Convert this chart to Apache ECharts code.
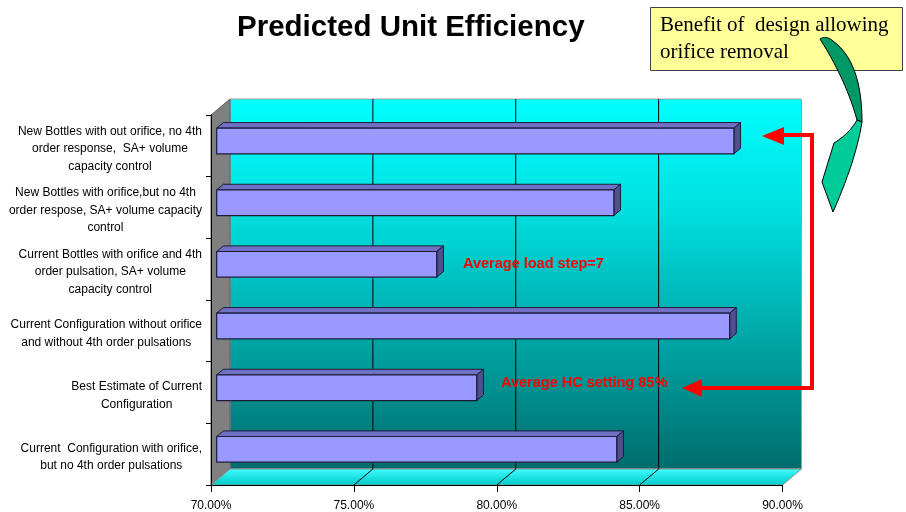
<!DOCTYPE html>
<html>
<head>
<meta charset="utf-8">
<script src="https://cdn.jsdelivr.net/npm/echarts@6/dist/echarts.min.js"></script>
<style>
html,body{margin:0;padding:0;background:#fff;}
#chart{width:906px;height:512px;}
</style>
</head>
<body>
<div id="chart"></div>
<script>
// ---- data ----
const categories = [
  "New Bottles with out orifice, no 4th\norder response,  SA+ volume\ncapacity control",
  "New Bottles with orifice,but no 4th\norder respose, SA+ volume capacity\ncontrol",
  "Current Bottles with orifice and 4th\norder pulsation, SA+ volume\ncapacity control",
  "Current Configuration without orifice\nand without 4th order pulsations",
  "Best Estimate of Current\nConfiguration",
  "Current  Configuration with orifice,\nbut no 4th order pulsations"
];
const efficiency = [88.1, 83.9, 77.7, 87.95, 79.1, 84.0];
const xMin = 70, xMax = 90, xStep = 5;
const wallGridValues = [75, 80, 85];
const titleText = "Predicted Unit Efficiency";
const noteLoad = "Average load step=7";
const noteHC = "Average HC setting 85%";
const boxLines = ["Benefit of  design allowing", "orifice removal"];

// ---- style constants (3D look) ----
const DX = 19, DY = -16;        // full depth offset
const F0 = 0.3, F1 = 0.65;      // bar depth span
const BAR_RATIO = 1 / 2.4;      // gap width 140%
const FONT = "'Liberation Sans', Arial, sans-serif";

function lin(stops) {
  return {type: 'linear', x: 0, y: 0, x2: 0, y2: 1,
    colorStops: stops.map(s => ({offset: s[0], color: s[1]}))};
}
// sample a path made of line points / quadratic [c, e] segments into polygon points
function shapePoints(start, segs) {
  const pts = [start.slice()];
  let cur = start.slice();
  segs.forEach(function (s) {
    if (!Array.isArray(s[0])) { pts.push(s.slice()); cur = s.slice(); }
    else {
      const c = s[0], e = s[1];
      for (let k = 1; k <= 14; k++) {
        const t = k / 14, u = 1 - t;
        pts.push([u * u * cur[0] + 2 * u * t * c[0] + t * t * e[0],
                  u * u * cur[1] + 2 * u * t * c[1] + t * t * e[1]]);
      }
      cur = e.slice();
    }
  });
  return pts;
}
const arrowUpper = shapePoints([820, 39], [[[826, 35], [833, 41]], [[862, 62], [862, 122]], [857, 120], [[846, 80], [820, 39]]]);
const arrowLower = shapePoints([857, 120], [[862, 122], [[856, 160], [833, 212]], [822, 182], [834, 143], [[849, 134], [857, 120]]]);

const chart = echarts.init(document.getElementById('chart'), null, {renderer: 'canvas'});

const option = {
  backgroundColor: '#ffffff',
  animation: false,
  title: {
    text: titleText,
    left: 232, top: 8,
    textStyle: {fontFamily: FONT, fontWeight: 'bold', fontSize: 29.5, color: '#000'}
  },
  grid: {left: 211, right: 123.5, top: 115, bottom: 26, containLabel: false},
  xAxis: {
    type: 'value', min: xMin, max: xMax, interval: xStep, z: 5,
    axisLine: {show: true, lineStyle: {color: '#000', width: 1}},
    axisTick: {show: true, length: 7, lineStyle: {color: '#000'}},
    splitLine: {show: false},
    axisLabel: {
      formatter: v => v.toFixed(2) + '%',
      fontFamily: FONT, fontSize: 12, color: '#000', margin: 15
    }
  },
  yAxis: {
    type: 'category', data: categories, inverse: true, z: 5,
    axisLine: {show: true, lineStyle: {color: '#000', width: 1}},
    axisTick: {show: true, length: 5, lineStyle: {color: '#000'}},
    splitLine: {show: false},
    axisLabel: {
      align: 'right', margin: 9, padding: [6, 0, 0, 0],
      formatter: v => v.split('\n').map(s => '{c|' + s + '}').join('\n'),
      rich: {c: {align: 'center', fontFamily: FONT, fontSize: 12, lineHeight: 17.5, color: '#000'}}
    }
  },
  series: [
    {
      type: 'custom', name: 'walls', z: 1, silent: true, clip: false,
      data: [[xMin, 0]],
      renderItem: function (params, api) {
        const cs = params.coordSys;
        const x = cs.x, y = cs.y, w = cs.width, h = cs.height;
        const children = [];
        children.push({
          type: 'rect',
          shape: {x: x + DX, y: y + DY, width: w, height: h},
          style: {fill: lin([[0, '#00FFFF'], [0.3, '#00E0E0'], [1, '#006C6C']]), stroke: '#A0A0A0', lineWidth: 1}
        });
        children.push({
          type: 'polygon',
          shape: {points: [[x, y], [x + DX, y + DY], [x + DX, y + h + DY], [x, y + h]]},
          style: {fill: '#808080', stroke: '#606060', lineWidth: 1}
        });
        children.push({
          type: 'polygon',
          shape: {points: [[x, y + h], [x + DX, y + h + DY], [x + w + DX, y + h + DY], [x + w, y + h]]},
          style: {fill: lin([[0, '#40FFFF'], [1, '#00C8C8']]), stroke: '#909090', lineWidth: 1}
        });
        wallGridValues.forEach(function (v) {
          const xv = api.coord([v, 0])[0];
          children.push({type: 'line', shape: {x1: xv + DX, y1: y + DY, x2: xv + DX, y2: y + h + DY},
            style: {stroke: '#000', lineWidth: 1}});
          children.push({type: 'line', shape: {x1: xv + DX, y1: y + h + DY, x2: xv, y2: y + h},
            style: {stroke: '#000', lineWidth: 1}});
        });
        return {type: 'group', children: children};
      }
    },
    {
      type: 'custom', name: 'Efficiency', z: 4, clip: false,
      encode: {x: 0, y: 1},
      data: efficiency.map((v, i) => [v, i]),
      renderItem: function (params, api) {
        const v = api.value(0), i = api.value(1);
        const p0 = api.coord([xMin, i]);
        const p1 = api.coord([v, i]);
        const bh = api.size([0, 1])[1] * BAR_RATIO;
        const L = p0[0] + DX * F0, R = p1[0] + DX * F0;
        const T = p1[1] - bh / 2 + DY * F0, B = p1[1] + bh / 2 + DY * F0;
        const ddx = DX * (F1 - F0), ddy = DY * (F1 - F0);
        const stroke = '#1C1C3A';
        return {type: 'group', children: [
          {type: 'polygon', shape: {points: [[L, T], [L + ddx, T + ddy], [R + ddx, T + ddy], [R, T]]},
            style: {fill: '#7070C4', stroke: stroke, lineWidth: 1}},
          {type: 'polygon', shape: {points: [[R, T], [R + ddx, T + ddy], [R + ddx, B + ddy], [R, B]]},
            style: {fill: '#505090', stroke: stroke, lineWidth: 1}},
          {type: 'rect', shape: {x: L, y: T, width: R - L, height: B - T},
            style: {fill: '#9999FF', stroke: stroke, lineWidth: 1.2}}
        ]};
      }
    }
  ],
  graphic: [
    {type: 'text', x: 463, y: 264, z: 10,
      style: {text: noteLoad, fill: '#FF0000', font: "bold 14.5px 'Liberation Sans', Arial, sans-serif",
        textAlign: 'left', textVerticalAlign: 'middle'}},
    {type: 'text', x: 501, y: 383, z: 10,
      style: {text: noteHC, fill: '#FF0000', font: "bold 14.5px 'Liberation Sans', Arial, sans-serif",
        textAlign: 'left', textVerticalAlign: 'middle'}},
    {type: 'polyline', z: 10, shape: {points: [[783, 135], [812, 135], [812, 388], [700, 388]]},
      style: {stroke: '#FF0000', lineWidth: 4, fill: null, lineJoin: 'miter'}},
    {type: 'polygon', z: 10, shape: {points: [[762, 136], [784, 127], [784, 145]]},
      style: {fill: '#FF0000'}},
    {type: 'polygon', z: 10, shape: {points: [[682, 388], [702, 379], [702, 397]]},
      style: {fill: '#FF0000'}},
    {type: 'rect', z: 10, shape: {x: 650.5, y: 7.5, width: 252, height: 63},
      style: {fill: '#FFFF99', stroke: '#404040', lineWidth: 1}},
    {type: 'text', x: 660, y: 25, z: 11,
      style: {text: boxLines[0], fill: '#000', font: "21px 'Liberation Serif', 'Times New Roman', serif",
        textAlign: 'left', textVerticalAlign: 'middle'}},
    {type: 'text', x: 660, y: 52, z: 11,
      style: {text: boxLines[1], fill: '#000', font: "21px 'Liberation Serif', 'Times New Roman', serif",
        textAlign: 'left', textVerticalAlign: 'middle'}},
    {type: 'polygon', z: 12, shape: {points: arrowUpper},
      style: {fill: '#009966', stroke: '#000', lineWidth: 1}},
    {type: 'polygon', z: 12, shape: {points: arrowLower},
      style: {fill: '#00CC99', stroke: '#000', lineWidth: 1}}
  ]
};
chart.setOption(option);
</script>
</body>
</html>
